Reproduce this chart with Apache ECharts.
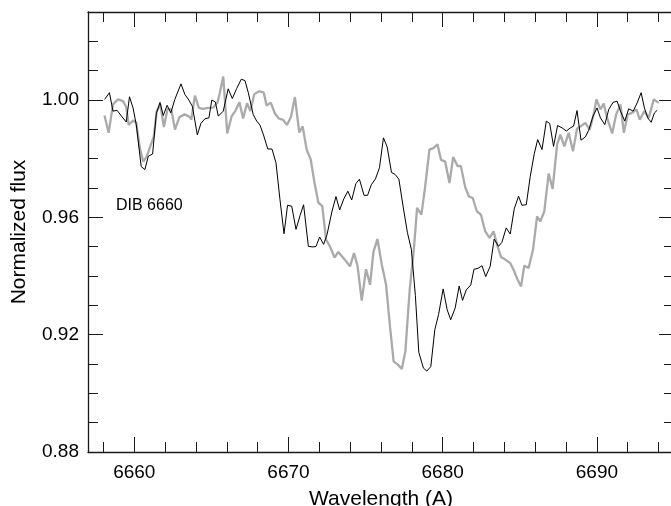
<!DOCTYPE html>
<html>
<head>
<meta charset="utf-8">
<script src="https://cdn.jsdelivr.net/npm/echarts@6/dist/echarts.min.js"></script>
<style>
  html, body { margin: 0; padding: 0; background: #fff; }
  #chart { width: 671px; height: 506px; }
</style>
</head>
<body>
<div id="chart"></div>
<script>
// Spectrum around the diffuse interstellar band at 6660 A: two normalized spectra.
const blackSpectrum = [
  [6658.08,1.0002],[6658.39,1.0025],[6658.62,0.9962],[6658.88,0.9965],[6659.16,0.9946],[6659.48,0.9925],[6659.69,1.0011],[6659.92,0.9973],[6660.13,0.9916],[6660.45,0.9773],
  [6660.69,0.9763],[6660.91,0.9808],[6661.19,0.9816],[6661.43,0.9954],[6661.67,0.9992],[6661.88,0.9947],[6662.13,0.9982],[6662.37,0.9956],[6662.63,1.0002],[6663.03,1.0055],
  [6663.28,1.0019],[6663.54,1.0000],[6663.77,0.9978],[6664.09,0.9881],[6664.32,0.9920],[6664.58,0.9936],[6664.84,0.9939],[6665.03,1.0000],[6665.26,0.9993],[6665.45,0.9945],
  [6665.77,0.9962],[6666.09,1.0038],[6666.36,1.0005],[6666.64,1.0039],[6666.94,1.0071],[6667.18,1.0066],[6667.39,1.0026],[6667.71,0.9951],[6667.94,0.9928],[6668.15,0.9915],
  [6668.38,0.9881],[6668.66,0.9833],[6668.93,0.9833],[6669.19,0.9786],[6669.45,0.9660],[6669.71,0.9544],[6669.94,0.9641],[6670.21,0.9638],[6670.49,0.9559],[6670.75,0.9606],
  [6670.98,0.9643],[6671.29,0.9501],[6671.59,0.9499],[6671.79,0.9501],[6672.02,0.9533],[6672.28,0.9508],[6672.50,0.9541],[6672.81,0.9618],[6673.08,0.9671],[6673.32,0.9625],
  [6673.58,0.9662],[6673.85,0.9689],[6674.10,0.9659],[6674.37,0.9715],[6674.60,0.9730],[6674.90,0.9675],[6675.13,0.9675],[6675.37,0.9711],[6675.64,0.9731],[6675.90,0.9769],
  [6676.16,0.9871],[6676.40,0.9840],[6676.68,0.9753],[6676.92,0.9746],[6677.16,0.9730],[6677.44,0.9635],[6677.71,0.9549],[6677.97,0.9490],[6678.23,0.9333],[6678.45,0.9140],
  [6678.75,0.9086],[6678.97,0.9076],[6679.23,0.9091],[6679.49,0.9217],[6679.73,0.9268],[6680.03,0.9356],[6680.29,0.9285],[6680.52,0.9251],[6680.81,0.9291],[6681.07,0.9366],
  [6681.29,0.9317],[6681.53,0.9353],[6681.82,0.9369],[6682.03,0.9423],[6682.29,0.9426],[6682.55,0.9435],[6682.79,0.9398],[6683.08,0.9433],[6683.34,0.9526],[6683.62,0.9501],
  [6683.84,0.9515],[6684.12,0.9564],[6684.38,0.9543],[6684.64,0.9629],[6684.92,0.9672],[6685.14,0.9641],[6685.42,0.9643],[6685.68,0.9740],[6685.94,0.9817],[6686.16,0.9865],
  [6686.44,0.9831],[6686.72,0.9928],[6686.94,0.9920],[6687.19,0.9842],[6687.45,0.9913],[6687.74,0.9905],[6688.02,0.9894],[6688.28,0.9905],[6688.49,0.9911],[6688.71,0.9964],
  [6688.97,0.9863],[6689.25,0.9874],[6689.47,0.9897],[6689.75,0.9945],[6690.01,0.9973],[6690.23,0.9939],[6690.51,0.9916],[6690.77,0.9968],[6691.05,0.9992],[6691.31,0.9996],
  [6691.53,0.9962],[6691.81,0.9928],[6692.06,0.9970],[6692.35,0.9962],[6692.61,0.9990],[6692.87,1.0025],[6693.08,0.9973],[6693.30,0.9939],[6693.52,0.9924],[6693.73,0.9956],
  [6693.91,0.9965]
];

const graySpectrum = [
  [6658.07,0.9947],[6658.34,0.9888],[6658.62,0.9985],[6658.94,1.0002],[6659.27,0.9996],[6659.48,0.9976],[6659.64,0.9915],[6659.92,0.9930],[6660.13,0.9922],[6660.36,0.9837],
  [6660.58,0.9790],[6660.81,0.9807],[6661.06,0.9845],[6661.27,0.9876],[6661.46,0.9962],[6661.69,0.9985],[6661.92,0.9908],[6662.16,0.9970],[6662.40,0.9968],[6662.64,0.9899],
  [6662.92,0.9941],[6663.26,0.9951],[6663.58,0.9943],[6663.70,0.9933],[6663.93,1.0015],[6664.19,0.9973],[6664.47,0.9970],[6664.79,0.9973],[6665.12,0.9974],[6665.40,0.9992],
  [6665.55,1.0025],[6665.77,1.0080],[6666.03,0.9886],[6666.31,0.9944],[6666.57,0.9964],[6666.82,0.9992],[6667.06,0.9937],[6667.31,0.9989],[6667.53,0.9962],[6667.78,1.0020],
  [6668.10,1.0030],[6668.40,1.0025],[6668.58,0.9981],[6668.85,0.9991],[6669.12,0.9954],[6669.37,0.9937],[6669.66,0.9932],[6669.90,0.9915],[6670.16,0.9942],[6670.42,1.0010],
  [6670.70,0.9889],[6670.92,0.9910],[6671.18,0.9831],[6671.44,0.9798],[6671.69,0.9717],[6671.94,0.9650],[6672.19,0.9638],[6672.44,0.9523],[6672.68,0.9502],[6672.99,0.9463],
  [6673.23,0.9482],[6673.60,0.9459],[6673.99,0.9433],[6674.25,0.9478],[6674.48,0.9434],[6674.75,0.9316],[6675.03,0.9423],[6675.29,0.9370],[6675.51,0.9482],[6675.77,0.9526],
  [6676.05,0.9439],[6676.33,0.9370],[6676.59,0.9224],[6676.82,0.9109],[6677.11,0.9097],[6677.35,0.9083],[6677.58,0.9143],[6677.86,0.9353],[6678.13,0.9490],[6678.34,0.9632],
  [6678.62,0.9609],[6678.86,0.9703],[6679.14,0.9831],[6679.40,0.9836],[6679.66,0.9849],[6679.89,0.9796],[6680.16,0.9790],[6680.44,0.9717],[6680.68,0.9806],[6680.96,0.9775],
  [6681.18,0.9775],[6681.46,0.9703],[6681.70,0.9671],[6681.95,0.9666],[6682.22,0.9620],[6682.48,0.9609],[6682.76,0.9552],[6683.04,0.9530],[6683.30,0.9552],[6683.56,0.9501],
  [6683.78,0.9465],[6684.06,0.9456],[6684.38,0.9444],[6684.64,0.9416],[6684.86,0.9387],[6685.08,0.9364],[6685.29,0.9435],[6685.57,0.9427],[6685.86,0.9490],[6686.12,0.9603],
  [6686.33,0.9586],[6686.59,0.9620],[6686.87,0.9749],[6687.13,0.9697],[6687.42,0.9848],[6687.63,0.9882],[6687.89,0.9842],[6688.17,0.9888],[6688.45,0.9825],[6688.71,0.9902],
  [6688.97,0.9911],[6689.25,0.9922],[6689.53,0.9899],[6689.79,0.9951],[6689.97,1.0002],[6690.23,0.9968],[6690.44,0.9988],[6690.66,0.9939],[6690.99,0.9886],[6691.25,0.9951],
  [6691.53,0.9985],[6691.75,0.9888],[6692.00,0.9951],[6692.29,0.9956],[6692.56,0.9968],[6692.78,0.9933],[6693.08,0.9962],[6693.36,0.9939],[6693.69,1.0002],[6694.01,0.9990]
];

// Axis ranges and tick positions
const waveRange = [6657, 6695];
const fluxRange = [0.88, 1.03];
const waveMajorTicks = [6660, 6670, 6680, 6690];
const waveMinorTicks = [6658, 6662, 6664, 6666, 6668, 6672, 6674, 6676, 6678, 6682, 6684, 6686, 6688, 6692, 6694];
const fluxMajorTicks = [0.88, 0.92, 0.96, 1.00];
const fluxMinorTicks = [0.89, 0.90, 0.91, 0.93, 0.94, 0.95, 0.97, 0.98, 0.99, 1.01, 1.02];

const FONT = 'Liberation Sans';
const AXIS_COLOR = '#1a1a1a';

function xAxisDef(position, ticks, len, primary) {
  return {
    type: 'value', position: position,
    min: waveRange[0], max: waveRange[1],
    axisLine: { show: primary, onZero: false, lineStyle: { color: AXIS_COLOR, width: 1.3 } },
    axisTick: { show: true, inside: true, length: len, customValues: ticks, lineStyle: { color: AXIS_COLOR, width: 1 } },
    axisLabel: (primary && position === 'bottom')
      ? { show: true, customValues: ticks, fontFamily: FONT, fontSize: 19, color: '#000', margin: 11,
          formatter: v => String(v) }
      : { show: false },
    splitLine: { show: false },
    name: (primary && position === 'bottom') ? 'Wavelength (A)' : '',
    nameLocation: 'middle', nameGap: 37,
    nameTextStyle: { fontFamily: FONT, fontSize: 21, color: '#000' }
  };
}

function yAxisDef(position, ticks, len, primary) {
  return {
    type: 'value', position: position,
    min: fluxRange[0], max: fluxRange[1],
    axisLine: { show: primary, onZero: false, lineStyle: { color: AXIS_COLOR, width: 1.3 } },
    axisTick: { show: true, inside: true, length: len, customValues: ticks, lineStyle: { color: AXIS_COLOR, width: 1 } },
    axisLabel: (primary && position === 'left')
      ? { show: true, customValues: ticks, fontFamily: FONT, fontSize: 19, color: '#000', margin: 9,
          formatter: v => v.toFixed(2) }
      : { show: false },
    splitLine: { show: false },
    name: (primary && position === 'left') ? 'Normalized flux' : '',
    nameLocation: 'middle', nameGap: 58, nameRotate: 90,
    nameTextStyle: { fontFamily: FONT, fontSize: 21, color: '#000' }
  };
}

const chart = echarts.init(document.getElementById('chart'), null, { renderer: 'canvas' });
chart.setOption({
  animation: false,
  backgroundColor: '#ffffff',
  grid: { left: 88, top: 12, width: 586, height: 440, containLabel: false, outerBoundsMode: 'none' },
  xAxis: [
    xAxisDef('bottom', waveMajorTicks, 15, true),
    xAxisDef('bottom', waveMinorTicks, 10, false),
    xAxisDef('top', waveMajorTicks, 15, true),
    xAxisDef('top', waveMinorTicks, 10, false)
  ],
  yAxis: [
    yAxisDef('left', fluxMajorTicks, 15, true),
    yAxisDef('left', fluxMinorTicks, 10, false),
    yAxisDef('right', fluxMajorTicks, 15, true),
    yAxisDef('right', fluxMinorTicks, 10, false)
  ],
  graphic: [{
    type: 'text', left: 116, top: 198, silent: true,
    style: { text: 'DIB 6660', font: '16px "Liberation Sans"', fill: '#000' }
  }],
  series: [
    {
      type: 'line', name: 'gray', xAxisIndex: 0, yAxisIndex: 0,
      data: graySpectrum, showSymbol: false, symbol: 'none',
      lineStyle: { color: '#aaaaaa', width: 2.3 }, z: 2
    },
    {
      type: 'line', name: 'black', xAxisIndex: 0, yAxisIndex: 0,
      data: blackSpectrum, showSymbol: false, symbol: 'none',
      lineStyle: { color: '#000000', width: 1 }, z: 3
    }
  ]
});
</script>
</body>
</html>
